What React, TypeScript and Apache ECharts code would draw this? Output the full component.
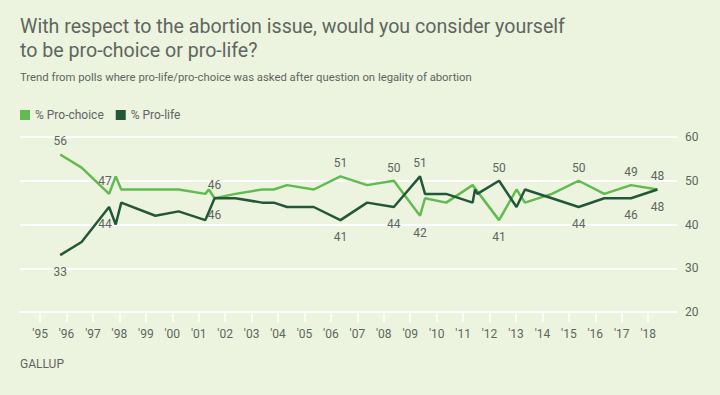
import React, { useEffect, useRef } from "react";
import * as echarts from "echarts";

const dates = [
  1995.76, 1996.57, 1997.61, 1997.86, 1998.07, 1999.36, 2000.24, 2001.25, 2001.38, 2001.6,
  2002.39, 2003.4, 2003.84, 2004.34, 2005.35, 2006.36, 2007.37, 2008.38, 2009.37, 2009.56,
  2010.36, 2011.36, 2011.45, 2011.54, 2012.36, 2013.02, 2013.34, 2014.36, 2015.37, 2016.34,
  2017.35, 2018.35,
];
const proChoice = [
  56, 53, 47, 51, 48, 48, 48, 47, 48, 46,
  47, 48, 48, 49, 48, 51, 49, 50, 42, 46,
  45, 49, null, null, 41, 48, 45, 47, 50, 47,
  49, 48,
];
const proLife = [
  33, 36, 44, 40, 45, 42, 43, 41, null, 46,
  46, 45, 45, 44, 44, 41, 45, 44, 51, 47,
  47, 45, 48, 47, 50, 44, 48, 46, 44, 46,
  46, 48,
];
// labelled points: index -> side
const choiceLabels: Record<number, string> = { 0: "top", 2: "topleft", 9: "top", 15: "top", 17: "top", 18: "bottom", 24: "bottom", 28: "top", 30: "top", 31: "top" };
const lifeLabels: Record<number, string> = { 0: "bottom", 2: "bottomleft", 9: "bottom", 15: "bottom", 17: "bottom", 18: "top", 24: "top", 28: "bottom", 30: "bottom", 31: "bottom" };
const yearTicks = [1995, 1996, 1997, 1998, 1999, 2000, 2001, 2002, 2003, 2004, 2005, 2006, 2007, 2008, 2009, 2010, 2011, 2012, 2013, 2014, 2015, 2016, 2017, 2018];
const yTicks = [20, 30, 40, 50, 60];

const TITLE = "With respect to the abortion issue, would you consider yourself\nto be pro-choice or pro-life?";
const SUBTITLE = "Trend from polls where pro-life/pro-choice was asked after question on legality of abortion";

const BG = "#ecf3df";
const LIGHT = "#62bb4f";
const DARK = "#22573a";
const TXT = "#5f665f";
const FONT = "Roboto, 'Noto Sans', sans-serif";

function buildData(vals: (number | null)[], labels: Record<number, string>) {
  return vals.map((v, i) => {
    const pos = labels[i];
    const item: any = { value: [dates[i], v] };
    if (pos && v != null) {
      const isTop = pos.startsWith("top");
      const left = pos.endsWith("left");
      item.label = {
        show: true,
        position: isTop ? "top" : "bottom",
        distance: isTop ? 7 : 11,
        offset: left ? [-4, 0] : [0, 0],
      };
    }
    return item;
  });
}

export default function App() {
  const ref = useRef<HTMLDivElement>(null);
  useEffect(() => {
    document.body.style.margin = "0";
    if (!ref.current) return;
    const chart = echarts.init(ref.current, null, { renderer: "svg" });
    const labelStyle = { show: false, color: TXT, fontSize: 12, fontFamily: FONT };
    chart.setOption({
      animation: false,
      backgroundColor: BG,
      textStyle: { fontFamily: FONT },
      graphic: [
        {
          type: "text",
          left: 20,
          top: 14,
          style: { text: TITLE, fill: TXT, font: `19.6px ${FONT}`, lineHeight: 24 },
        },
        {
          type: "text",
          left: 20,
          top: 72,
          style: { text: SUBTITLE, fill: TXT, font: `11.3px ${FONT}` },
        },
        {
          type: "text",
          left: 20,
          top: 358,
          style: { text: "GALLUP", fill: TXT, font: `12px ${FONT}` },
        },
      ],
      legend: {
        left: 15,
        top: 104,
        icon: "rect",
        itemWidth: 10,
        itemHeight: 10,
        itemGap: 12,
        textStyle: { color: TXT, fontSize: 12, fontFamily: FONT },
        data: ["% Pro-choice", "% Pro-life"],
      },
      grid: { left: 20, right: 43, top: 137, bottom: 83 },
      xAxis: {
        type: "value",
        min: 1994.24,
        max: 2019.09,
        splitLine: { show: false },
        axisLine: { show: true, lineStyle: { color: "#ffffff", width: 2 } },
        axisTick: {
          show: true,
          customValues: yearTicks,
          length: 10,
          lineStyle: { color: "#ffffff", width: 1.5 },
        },
        axisLabel: {
          customValues: yearTicks,
          color: TXT,
          fontSize: 12,
          margin: 16,
          fontFamily: FONT,
          formatter: (v: number) => "'" + String(Math.round(v)).slice(2),
        },
      },
      yAxis: {
        type: "value",
        position: "right",
        min: 20,
        max: 60,
        interval: 10,
        axisLine: { show: false },
        axisTick: { show: false },
        splitLine: { show: true, lineStyle: { color: "#ffffff", width: 2 } },
        axisLabel: {
          customValues: yTicks,
          color: TXT,
          fontSize: 12,
          margin: 8,
          fontFamily: FONT,
        },
      },
      series: [
        {
          name: "% Pro-choice",
          type: "line",
          data: buildData(proChoice, choiceLabels),
          connectNulls: true,
          showSymbol: true,
          symbol: "circle",
          symbolSize: 0.01,
          itemStyle: { color: LIGHT },
          lineStyle: { color: LIGHT, width: 2.5 },
          label: labelStyle,
          emphasis: { disabled: true },
          z: 3,
        },
        {
          name: "% Pro-life",
          type: "line",
          data: buildData(proLife, lifeLabels),
          connectNulls: true,
          showSymbol: true,
          symbol: "circle",
          symbolSize: 0.01,
          itemStyle: { color: DARK },
          lineStyle: { color: DARK, width: 2.5 },
          label: labelStyle,
          emphasis: { disabled: true },
          z: 4,
        },
      ],
    });
    return () => chart.dispose();
  }, []);
  return <div ref={ref} style={{ width: 720, height: 395 }} />;
}
